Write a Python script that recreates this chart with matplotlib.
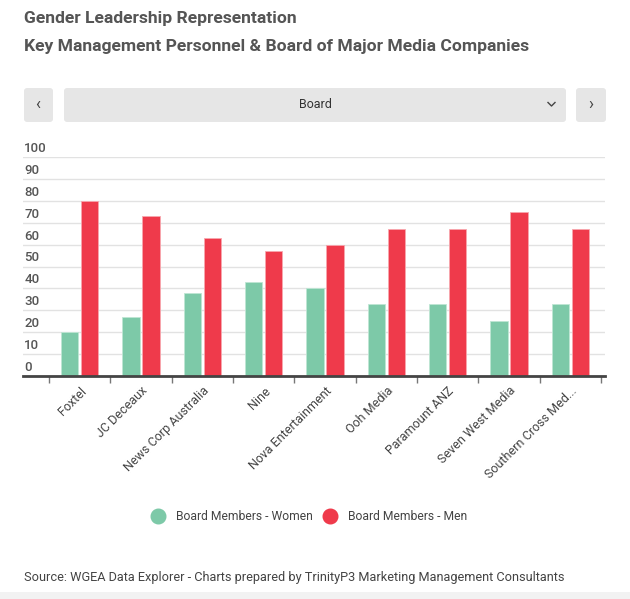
import matplotlib
matplotlib.use("Agg")
import matplotlib.pyplot as plt
from matplotlib.patches import FancyBboxPatch, Rectangle
from matplotlib.lines import Line2D
import numpy as np

plt.rcParams['font.family'] = ['Roboto', 'DejaVu Sans']

companies = ["Foxtel", "JC Deceaux", "News Corp Australia", "Nine", "Nova Entertainment",
             "Ooh Media", "Paramount ANZ", "Seven West Media", "Southern Cross Med..."]
women = [20, 27, 38, 43, 40, 33, 33, 25, 33]
men = [80, 73, 63, 57, 60, 67, 67, 75, 67]
y_ticks = [0, 10, 20, 30, 40, 50, 60, 70, 80, 90, 100]
series_names = ["Board Members - Women", "Board Members - Men"]

GREEN = "#7dc9a8"
RED = "#ef3a4b"
W, H = 630, 599

fig = plt.figure(figsize=(W / 100, H / 100), dpi=100)
fig.patch.set_facecolor("white")

def fx(px):
    return px / W

def fy(py):
    return 1 - py / H

# titles
fig.text(fx(24), fy(18), "Gender Leadership Representation", fontsize=12.6,
         fontweight="bold", color="#555555", va="center", ha="left")
fig.text(fx(24), fy(46), "Key Management Personnel & Board of Major Media Companies",
         fontsize=12.6, fontweight="bold", color="#555555", va="center", ha="left")

# control bar (buttons + dropdown)
for x0, x1 in [(24, 53), (64, 566), (576, 606)]:
    box = FancyBboxPatch((fx(x0), fy(122)), fx(x1 - x0), (122 - 88) / H,
                         boxstyle="round,pad=0,rounding_size=0.005",
                         transform=fig.transFigure, facecolor="#e6e6e6",
                         edgecolor="none")
    fig.patches.append(box)
fig.text(fx(38), fy(104), "‹", fontsize=12, color="#444444", ha="center", va="center")
fig.text(fx(591), fy(104), "›", fontsize=12, color="#444444", ha="center", va="center")
fig.text(fx(315), fy(104), "Board", fontsize=9, color="#333333", ha="center", va="center")
fig.lines.append(Line2D([fx(548), fx(551.5), fx(555)], [fy(102.5), fy(106), fy(102.5)],
                        transform=fig.transFigure, color="#444444", lw=1.0))

# chart axes
ax = fig.add_axes([fx(23), fy(376), fx(605 - 23), (376 - 157) / H])
x = np.arange(len(companies))
step = 61.3
bw = 17.5 / step
off = 10 / step
ax.bar(x - off, women, width=bw, color=GREEN, edgecolor="#bfe6d4", linewidth=0.6, zorder=3)
ax.bar(x + off, men, width=bw, color=RED, edgecolor="#f8a7ae", linewidth=0.6, zorder=3)

ax.set_xlim(-0.5 - 26 / step, len(companies) - 0.5 + 4 / step)
ax.set_ylim(0, 100)
ax.set_yticks(y_ticks)
ax.set_yticklabels([])
ax.tick_params(axis="y", length=0)
ax.grid(axis="y", color="#e2e2e2", linewidth=1.0, zorder=0)
for v in y_ticks:
    ax.annotate(str(v), xy=(0, v), xycoords=("axes fraction", "data"),
                xytext=(1, 1.5), textcoords="offset points", ha="left", va="bottom",
                fontsize=9.5, fontweight="medium", color="#555555")

for s in ["top", "right", "left"]:
    ax.spines[s].set_visible(False)
ax.spines["bottom"].set_color("#444444")
ax.spines["bottom"].set_linewidth(2)
ax.spines["bottom"].set_zorder(4)

# boundary tick marks between categories
ax.set_xticks(np.arange(len(companies) + 1) - 0.5, minor=True)
ax.tick_params(axis="x", which="minor", length=5, width=1, color="#777777", direction="out")
ax.set_xticks(x)
ax.set_xticklabels(companies, rotation=45, ha="right", rotation_mode="anchor",
                   fontsize=9, color="#444444")
ax.tick_params(axis="x", which="major", length=0, pad=6)

# legend
leg_y = fy(516)
fig.lines.append(Line2D([fx(158)], [leg_y], marker="o", markersize=10.5, color=GREEN,
                        transform=fig.transFigure, linestyle="none"))
fig.text(fx(176), leg_y, series_names[0], fontsize=8.7, color="#444444", ha="left", va="center")
fig.lines.append(Line2D([fx(330)], [leg_y], marker="o", markersize=10.5, color=RED,
                        transform=fig.transFigure, linestyle="none"))
fig.text(fx(348), leg_y, series_names[1], fontsize=8.7, color="#444444", ha="left", va="center")

# source
fig.text(fx(24), fy(578), "Source: WGEA Data Explorer - Charts prepared by TrinityP3 Marketing Management Consultants",
         fontsize=9.2, color="#444444", ha="left", va="center")
fig.patches.append(Rectangle((0, 0), 1, fy(592), transform=fig.transFigure,
                             facecolor="#f2f2f2", edgecolor="none"))

fig.savefig("out.png", dpi=100, facecolor="white")
